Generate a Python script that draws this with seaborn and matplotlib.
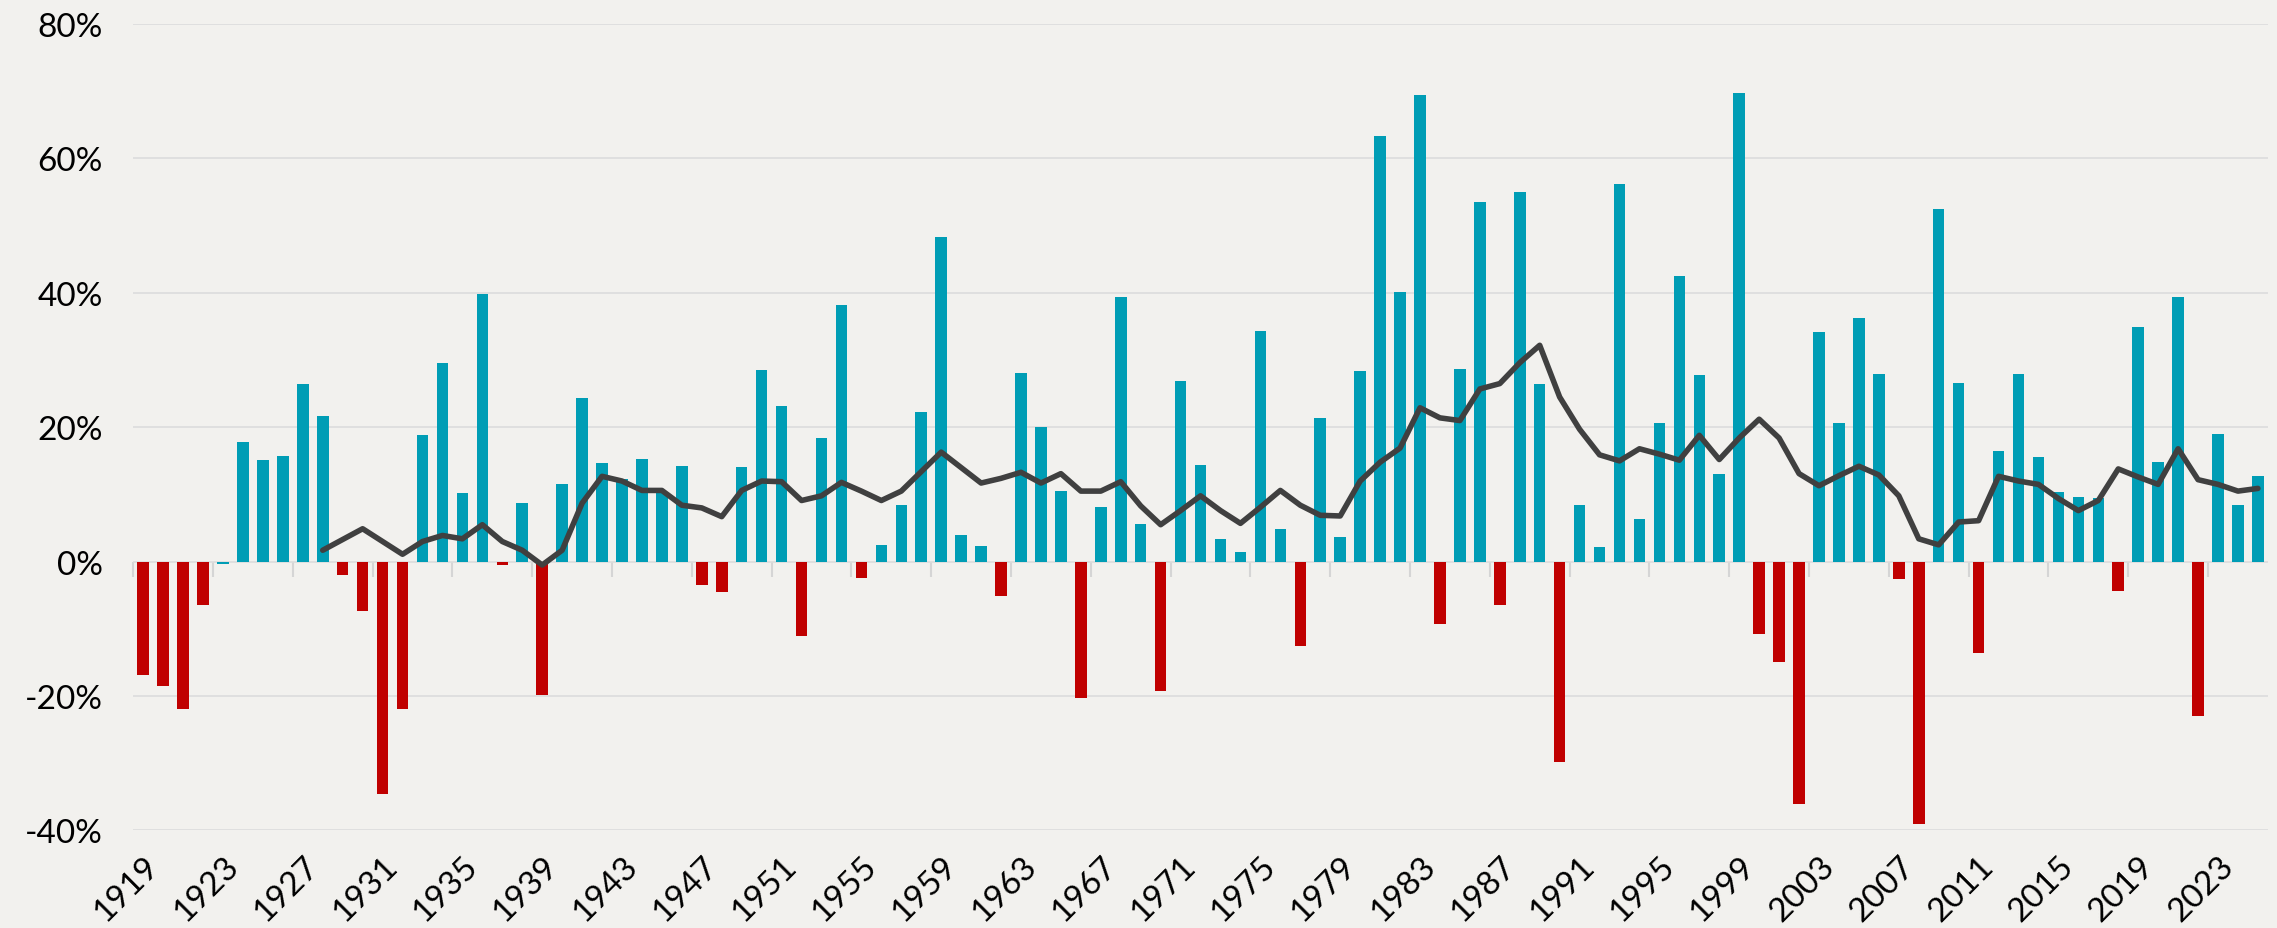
import numpy as np
import pandas as pd
import matplotlib
matplotlib.use('Agg')
import matplotlib.pyplot as plt
import seaborn as sns

# ----------------------------------------------------------------------------
# data (annual returns in %)
# ----------------------------------------------------------------------------
years = list(range(1919, 2026))
returns = [
    -16.8, -18.5, -21.9, -6.5, -0.3, 17.8, 15.2, 15.7, 26.4, 21.7,      # 1919-1928
    -2.0, -7.4, -34.6, -21.9, 18.9, 29.5, 10.2, 39.9, -0.5, 8.7,        # 1929-1938
    -19.9, 11.6, 24.3, 14.7, 12.3, 15.3, 10.2, 14.2, -3.4, -4.5,        # 1939-1948
    14.1, 28.5, 23.1, -11.1, 18.4, 38.2, -2.5, 2.5, 8.4, 22.3,          # 1949-1958
    48.3, 3.9, 2.4, -5.1, 28.1, 20.0, 10.5, -20.3, 8.1, 39.4,           # 1959-1968
    5.6, -19.2, 26.9, 14.4, 3.3, 1.4, 34.4, 4.8, -12.6, 21.4,           # 1969-1978
    3.6, 28.3, 63.3, 40.2, 69.4, -9.3, 28.7, 53.5, -6.5, 55.0,          # 1979-1988
    26.5, -29.8, 8.4, 2.2, 56.2, 6.4, 20.7, 42.5, 27.8, 13.0,           # 1989-1998
    69.8, -10.8, -14.9, -36.0, 34.2, 20.7, 36.3, 28.0, -2.6, -39.0,     # 1999-2008
    52.5, 26.6, -13.6, 16.4, 28.0, 15.6, 10.4, 9.6, 9.4, -4.3,          # 2009-2018
    34.9, 14.9, 39.4, -22.9, 19.0, 8.5, 12.7,                           # 2019-2025
]

# rolling average line, starts in 1928
line_years = list(range(1928, 2026))
line_values = [
    1.7, 3.3, 4.9, 3.0, 1.1, 3.0, 3.9, 3.4, 5.5, 3.0,                   # 1928-1937
    1.7, -0.5, 1.7, 8.7, 12.7, 12.0, 10.6, 10.6, 8.4, 8.0,              # 1938-1947
    6.7, 10.6, 12.0, 11.9, 9.1, 9.8, 11.8, 10.5, 9.1, 10.5,             # 1948-1957
    13.4, 16.3, 14.0, 11.7, 12.4, 13.3, 11.7, 13.1, 10.5, 10.5,         # 1958-1967
    11.9, 8.3, 5.5, 7.6, 9.8, 7.6, 5.7, 8.1, 10.6, 8.4,                 # 1968-1977
    6.9, 6.8, 12.0, 14.8, 16.9, 22.9, 21.4, 21.0, 25.7, 26.5,           # 1978-1987
    29.6, 32.2, 24.5, 19.7, 15.9, 15.0, 16.8, 16.0, 15.1, 18.8,         # 1988-1997
    15.2, 18.4, 21.2, 18.4, 13.1, 11.3, 12.8, 14.2, 12.9, 9.8,          # 1998-2007
    3.4, 2.5, 5.9, 6.1, 12.7, 12.0, 11.5, 9.4, 7.6, 9.1,                # 2008-2017
    13.8, 12.6, 11.5, 16.8, 12.2, 11.5, 10.5, 10.9,                     # 2018-2025
]

assert len(years) == len(returns)
assert len(line_years) == len(line_values)

y_ticks = [-40, -20, 0, 20, 40, 60, 80]

TEAL = '#009DB5'
RED = '#C00000'
LINE = '#404040'
BG = '#F2F1EE'
GRID = '#DCDCDC'

df = pd.DataFrame({'year': years, 'ret': returns})
# the tiny 1923 bar is drawn teal in the original
df['sign'] = np.where(df['ret'] > -0.5, 'pos', 'neg')
df_line = pd.DataFrame({'year': line_years, 'avg': line_values})

# ----------------------------------------------------------------------------
# plot
# ----------------------------------------------------------------------------
sns.set_style('white', {'axes.facecolor': BG, 'figure.facecolor': BG})
plt.rcParams['font.family'] = ['Lato', 'DejaVu Sans']
plt.rcParams['axes.unicode_minus'] = False

fig = plt.figure(figsize=(22.77, 9.29), dpi=100)
ax = fig.add_axes([0.0585, 0.105, 0.9375, 0.868])

sns.barplot(data=df, x='year', y='ret', hue='sign',
            palette={'pos': TEAL, 'neg': RED}, native_scale=True,
            width=0.58, dodge=False, legend=False, linewidth=0,
            saturation=1, ax=ax)
sns.lineplot(data=df_line, x='year', y='avg', color=LINE, linewidth=4,
             ax=ax, zorder=5)

ax.set_xlim(years[0] - 0.5, years[-1] + 0.5)
ax.set_ylim(y_ticks[0], y_ticks[-1])
ax.set_yticks(y_ticks)
ax.set_yticklabels([f'{t}%' for t in y_ticks])
ax.yaxis.grid(True, color=GRID, linewidth=1.2)
ax.set_axisbelow(True)

label_years = years[::4]
ax.set_xticks(label_years)
ax.set_xticklabels([str(y) for y in label_years], rotation=45,
                   ha='right', va='top', rotation_mode='anchor')
ax.tick_params(axis='x', length=0, pad=14, labelsize=24, labelcolor='black')
ax.tick_params(axis='y', length=0, pad=22, labelsize=24, labelcolor='black')
ax.set_xlabel('')
ax.set_ylabel('')
for s in ax.spines.values():
    s.set_visible(False)

# small category-boundary ticks hanging from the 0% line
zero_frac = (0 - y_ticks[0]) / (y_ticks[-1] - y_ticks[0])
sec = ax.secondary_xaxis(zero_frac)
sec.set_xticks(np.arange(years[0] - 0.5, years[-1] + 1, 4))
sec.set_xticklabels([])
sec.tick_params(length=11, width=1.5, color='#D5D5D5', direction='out')
for s in sec.spines.values():
    s.set_visible(False)

plt.savefig('out.png', dpi=100, facecolor=BG)
